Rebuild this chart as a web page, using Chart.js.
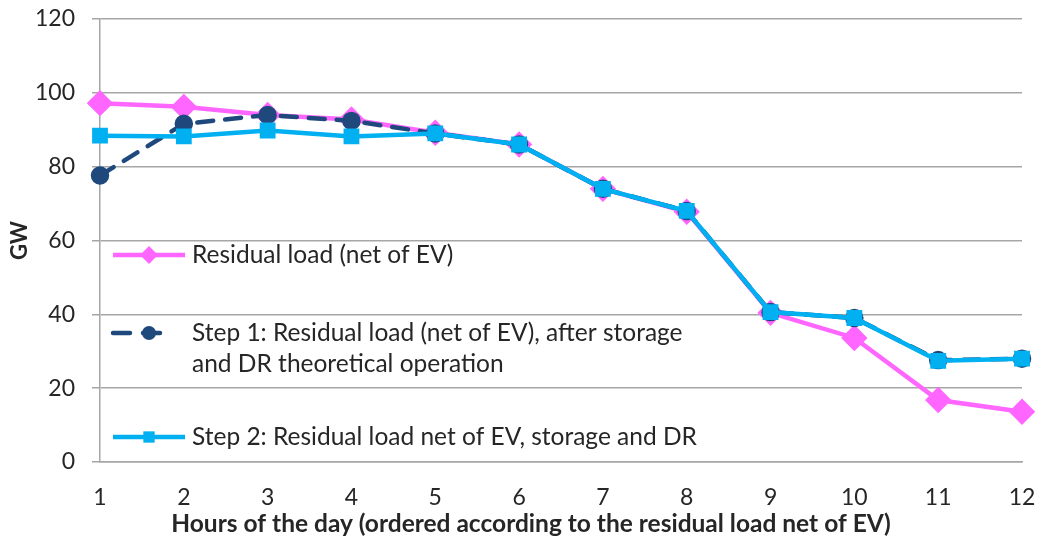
<!DOCTYPE html>
<html>
<head>
<meta charset="utf-8">
<script src="https://cdn.jsdelivr.net/npm/chart.js@4/dist/chart.umd.min.js"></script>
<style>
  body { margin: 0; background: #fff; }
  #wrap { width: 1040px; height: 540px; }
</style>
</head>
<body>
<div id="wrap"><canvas id="chart" width="1040" height="540"></canvas></div>
<script>
const hours = ['1','2','3','4','5','6','7','8','9','10','11','12'];
const residual = [97.2, 96.2, 94, 92.8, 89.2, 86, 74, 67.8, 40.4, 33.6, 16.8, 13.6];
const step1 = [77.6, 91.6, 94, 92.4, 89, 86, 74, 68, 40.6, 39, 27.6, 28];
const step2 = [88.4, 88.2, 89.8, 88.2, 89, 86, 74, 68, 40.6, 39, 27.4, 28];
const yTicks = [0, 20, 40, 60, 80, 100, 120];

const FONT = 'Lato, "Open Sans", sans-serif';
const TXT = '#262626';
const PINK = '#ff66ff', NAVY = '#1f497d', CYAN = '#00b0f0';

// legend drawn inside the plot, the way the original has it; x title too (it sits off-centre)
const insideLegend = {
    id: 'insideLegend',
    afterDatasetsDraw(chart) {
        const ctx = chart.ctx;
        const items = [
            { y: 255, color: PINK, dash: [], style: 'rectRot', r: 9, end: 185, lines: ['Residual load (net of EV)'] },
            { y: 333, color: NAVY, dash: [17, 13], style: 'circle', r: 7, end: 168, lines: ['Step 1: Residual load (net of EV), after storage', 'and DR theoretical operation'] },
            { y: 437, color: CYAN, dash: [], style: 'rect', r: 8, end: 185, lines: ['Step 2: Residual load net of EV, storage and DR'] }
        ];
        ctx.save();
        items.forEach(it => {
            ctx.strokeStyle = it.color;
            ctx.lineWidth = 4.5;
            ctx.lineCap = it.dash.length ? 'round' : 'butt';
            ctx.setLineDash(it.dash);
            ctx.beginPath();
            ctx.moveTo(113, it.y);
            ctx.lineTo(it.end, it.y);
            ctx.stroke();
            ctx.setLineDash([]);
            ctx.fillStyle = it.color;
            Chart.helpers.drawPoint(ctx, { pointStyle: it.style, radius: it.r, borderWidth: 0 }, 149, it.y);
            ctx.fillStyle = TXT;
            ctx.font = '24.5px ' + FONT;
            ctx.textBaseline = 'middle';
            it.lines.forEach((t, i) => ctx.fillText(t, 192, it.y + i * 31));
        });
        ctx.fillStyle = TXT;
        ctx.font = 'bold 24.5px ' + FONT;
        ctx.textAlign = 'center';
        ctx.textBaseline = 'middle';
        ctx.fillText('Hours of the day (ordered according to the residual load net of EV)', 531, 524);
        ctx.restore();
    }
};

new Chart(document.getElementById('chart'), {
    type: 'line',
    data: {
        labels: hours,
        datasets: [
            { label: 'Residual load (net of EV)', data: residual, borderColor: PINK, backgroundColor: PINK,
              borderWidth: 4.5, pointStyle: 'rectRot', pointRadius: 10, order: 3 },
            { label: 'Step 1: Residual load (net of EV), after storage and DR theoretical operation', data: step1,
              borderColor: NAVY, backgroundColor: NAVY, borderWidth: 4.5, borderDash: [16, 12], borderCapStyle: 'round',
              pointStyle: 'circle', pointRadius: 7, order: 2 },
            { label: 'Step 2: Residual load net of EV, storage and DR', data: step2, borderColor: CYAN, backgroundColor: CYAN,
              borderWidth: 4.5, pointStyle: 'rect', pointRadius: 8, order: 1 }
        ]
    },
    options: {
        responsive: false,
        animation: false,
        layout: { padding: 0 },
        plugins: { legend: { display: false }, tooltip: { enabled: false } },
        scales: {
            x: {
                offset: false,
                grid: { display: false, drawOnChartArea: false, tickLength: 8, color: '#a6a6a6' },
                border: { color: '#a6a6a6', width: 1.5 },
                ticks: { color: TXT, font: { family: FONT, size: 23 }, padding: 14, maxRotation: 0 },
                afterFit: s => { s.height = 78; s.paddingLeft = 0; s.paddingRight = 18; }
            },
            y: {
                min: 0, max: 120,
                afterBuildTicks: s => { s.ticks = yTicks.map(v => ({ value: v })); },
                grid: { color: '#a6a6a6', lineWidth: 1.5, tickLength: 8 },
                border: { color: '#a6a6a6', width: 1.5 },
                ticks: { color: TXT, font: { family: FONT, size: 23 }, padding: 17 },
                title: { display: true, text: 'GW', color: TXT, font: { family: FONT, size: 22, weight: 'bold' }, padding: { top: 7 } },
                afterFit: s => { s.width = 100; s.paddingTop = 19; s.paddingBottom = 0; }
            }
        }
    },
    plugins: [insideLegend]
});
</script>
</body>
</html>
